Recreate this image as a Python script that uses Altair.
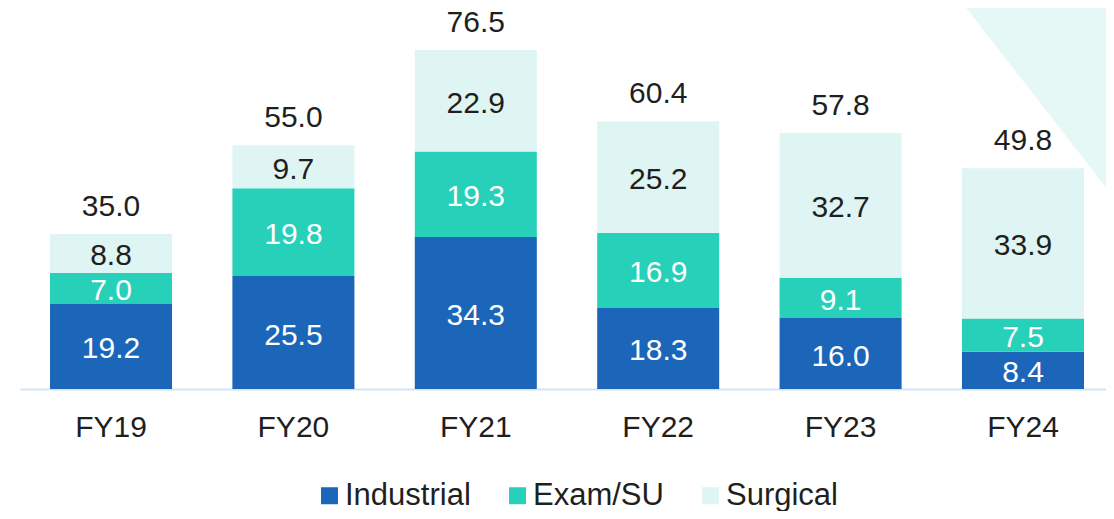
import altair as alt
import pandas as pd

years = ["FY19", "FY20", "FY21", "FY22", "FY23", "FY24"]
segments = ["Industrial", "Exam/SU", "Surgical"]
industrial = [19.2, 25.5, 34.3, 18.3, 16.0, 8.4]
exam_su = [7.0, 19.8, 19.3, 16.9, 9.1, 7.5]
surgical = [8.8, 9.7, 22.9, 25.2, 32.7, 33.9]
totals = [35.0, 55.0, 76.5, 60.4, 57.8, 49.8]

colors = ["#1B66B8", "#27D0B8", "#DFF5F3"]
label_colors = ["#FFFFFF", "#FFFFFF", "#1F1F1F"]
FONT = "Liberation Sans"

rows = []
for i, y in enumerate(years):
    for k, (seg, vals) in enumerate(zip(segments, [industrial, exam_su, surgical])):
        rows.append({"year": y, "segment": seg, "value": vals[i], "order": k,
                     "tcolor": label_colors[k]})
df = pd.DataFrame(rows)
tot_df = pd.DataFrame({"year": years, "total": totals})

x_scale = alt.Scale(paddingInner=0.331, paddingOuter=0.1645, range=[0, 1094])
x_enc = alt.X("year:N", sort=years, title=None, scale=x_scale,
              axis=alt.Axis(labelFontSize=30, labelFont=FONT, labelColor="#1F1F1F",
                            ticks=False, tickSize=0, labelPadding=47,
                            labelBaseline="alphabetic", domainColor="#D3E3F5",
                            domainWidth=2, grid=False, labelAngle=0))
y_scale = alt.Scale(domain=[0, 86], nice=False, zero=True)

tri = alt.Chart(pd.DataFrame({"d": [0]})).mark_point(
    shape="M-0.615,-1.1L1.3,-1.1L1.3,1.36Z", filled=True, opacity=1,
    color="#E5F8F5", size=40000, strokeWidth=0
).encode(x=alt.value(1000), y=alt.value(100))

base = alt.Chart(df)

bars = base.mark_bar().encode(
    x=x_enc,
    y=alt.Y("value:Q", stack="zero", scale=y_scale, axis=None),
    color=alt.Color("segment:N", scale=alt.Scale(domain=segments, range=colors),
                    legend=alt.Legend(title=None, orient="none", direction="horizontal",
                                      legendX=294, legendY=472,
                                      symbolType="square", symbolSize=289,
                                      symbolStrokeWidth=0, labelFontSize=31,
                                      labelFont=FONT, labelColor="#1F1F1F",
                                      labelOffset=0, columnPadding=31,
                                      padding=0)),
    order=alt.Order("order:Q", sort="ascending"),
)

seg_text = base.transform_stack(
    stack="value", groupby=["year"], sort=[alt.SortField("order", order="ascending")],
    as_=["y0", "y1"]
).transform_calculate(
    mid="(datum.y0 + datum.y1) / 2"
).mark_text(fontSize=30, font=FONT, baseline="middle", dy=3).encode(
    x=alt.X("year:N", sort=years, scale=x_scale),
    y=alt.Y("mid:Q", scale=y_scale),
    text=alt.Text("value:Q", format=".1f"),
    color=alt.Color("tcolor:N", scale=None),
)

tot_text = alt.Chart(tot_df).mark_text(
    fontSize=30, font=FONT, baseline="alphabetic", dy=-18, color="#1F1F1F"
).encode(
    x=alt.X("year:N", sort=years, scale=x_scale),
    y=alt.Y("total:Q", scale=y_scale),
    text=alt.Text("total:Q", format=".1f"),
)

chart = alt.layer(tri, bars, seg_text, tot_text).properties(
    width=1086, height=381,
    autosize=alt.AutoSizeParams(type="none"),
    padding={"left": 12, "top": 0, "right": 0, "bottom": 122},
    background="#FFFFFF",
).configure_view(stroke=None)

chart.save("out.html", embed_options={"renderer": "svg", "actions": False})
